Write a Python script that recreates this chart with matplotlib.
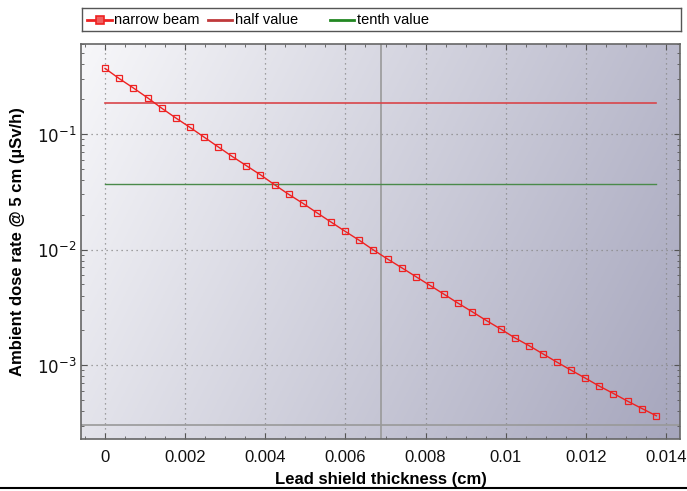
import numpy as np
import matplotlib
matplotlib.use("Agg")
import matplotlib.pyplot as plt
from matplotlib.lines import Line2D
from matplotlib.ticker import FixedLocator, MultipleLocator, LogLocator, NullFormatter

plt.rcParams['font.family'] = ['Liberation Sans', 'DejaVu Sans']

thickness = [0, 0.00035, 0.00071, 0.00106, 0.00141, 0.00176, 0.00212, 0.00247, 0.00282, 0.00317,
             0.00353, 0.00388, 0.00423, 0.00458, 0.00494, 0.00529, 0.00564, 0.00599, 0.00635, 0.00670,
             0.00705, 0.00740, 0.00776, 0.00811, 0.00846, 0.00881, 0.00917, 0.00952, 0.00987, 0.01022,
             0.01058, 0.01093, 0.01128, 0.01163, 0.01199, 0.01234, 0.01269, 0.01304, 0.01340, 0.01376]
dose = [0.369, 0.302, 0.2495, 0.2057, 0.1675, 0.138, 0.114, 0.0940, 0.0775, 0.0640,
        0.0531, 0.0443, 0.0364, 0.0301, 0.0251, 0.0208, 0.0173, 0.0144, 0.0120, 0.00992,
        0.00829, 0.00698, 0.00583, 0.00490, 0.00411, 0.00344, 0.00289, 0.00243, 0.00206, 0.00173,
        0.001477, 0.001253, 0.001062, 0.000906, 0.000772, 0.000658, 0.000569, 0.000489, 0.000422, 0.000365]
half_value = 0.1845
tenth_value = 0.0369
cursor_x = 0.006885
cursor_y = 0.000305

x_ticks = [0, 0.002, 0.004, 0.006, 0.008, 0.01, 0.012, 0.014]
x_tick_labels = ["0", "0.002", "0.004", "0.006", "0.008", "0.01", "0.012", "0.014"]
y_ticks = [1e-3, 1e-2, 1e-1]
y_tick_labels = [r"$10^{-3}$", r"$10^{-2}$", r"$10^{-1}$"]

fig = plt.figure(figsize=(6.87, 4.91), dpi=100)
ax = fig.add_axes([81/687, 1-439/491, (680-81)/687, (439-44)/491])

xlim = (-0.0006, 0.01435)
ylim = (2.3e-4, 0.60)
ax.set_xlim(*xlim)
ax.set_yscale('log')
ax.set_ylim(*ylim)

# gradient background
nx, ny = 256, 256
gx = np.linspace(0, 1, nx)[None, :]
gy = np.linspace(0, 1, ny)[:, None]
t = 0.75 * gx + 0.25 * gy
c0 = np.array([0.97, 0.97, 0.98])
c1 = np.array([0.65, 0.65, 0.74])
img = c0[None, None, :] * (1 - t[..., None]) + c1[None, None, :] * t[..., None]
ax.imshow(img, extent=[0, 1, 0, 1], transform=ax.transAxes, aspect='auto', zorder=0, origin='upper')

ax.grid(True, which='major', linestyle=(0, (1, 3)), color='#888888', linewidth=0.9, zorder=1)

ax.axvline(cursor_x, color='#999999', linewidth=1.2, zorder=2)
ax.axhline(cursor_y, color='#999999', linewidth=1.2, zorder=2)

ax.plot([thickness[0], thickness[-1]], [half_value, half_value], color='#d9454a', linewidth=1.2, zorder=3)
ax.plot([thickness[0], thickness[-1]], [tenth_value, tenth_value], color='#4a8a4a', linewidth=1.0, zorder=3)
ax.plot(thickness, dose, color='#ee2222', linewidth=1.0, marker='s', markersize=5,
        markerfacecolor='none', markeredgecolor='#ee2222', markeredgewidth=0.9, zorder=4)

ax.xaxis.set_major_locator(FixedLocator(x_ticks))
ax.set_xticklabels(x_tick_labels)
ax.xaxis.set_minor_locator(MultipleLocator(0.0005))
ax.yaxis.set_major_locator(FixedLocator(y_ticks))
ax.set_yticklabels(y_tick_labels)
ax.yaxis.set_minor_locator(LogLocator(base=10, subs=np.arange(2, 10)))
ax.yaxis.set_minor_formatter(NullFormatter())

ax.tick_params(which='both', direction='in', top=True, right=True, colors='#555555',
               labelcolor='#111111', labelsize=12)
ax.tick_params(which='major', length=4)
ax.tick_params(which='minor', length=2.5)
ax.tick_params(axis='x', pad=8)
for s in ax.spines.values():
    s.set_color('#666666')
    s.set_linewidth(1.2)

ax.set_xlabel("Lead shield thickness (cm)", fontsize=12, fontweight='bold', labelpad=5)
ax.set_ylabel("Ambient dose rate @ 5 cm (µSv/h)", fontsize=12, fontweight='bold', labelpad=8)

# legend box
lax = fig.add_axes([82/687, 1-31/491, (681-82)/687, (31-8)/491])
lax.set_xlim(0, 599)
lax.set_ylim(0, 23)
lax.set_xticks([])
lax.set_yticks([])
for s in lax.spines.values():
    s.set_color('#555555')
    s.set_linewidth(1.0)
lax.plot([5, 30], [11.5, 11.5], color='#ee2222', linewidth=2.0)
lax.plot([17.5], [11.5], marker='s', markersize=6, markerfacecolor='#f06060', markeredgecolor='#ee2222',
         markeredgewidth=1.2)
lax.text(32, 11.5, "narrow beam", fontsize=10.5, va='center', ha='left')
lax.plot([126, 150], [11.5, 11.5], color='#c0393b', linewidth=2.0)
lax.text(153, 11.5, "half value", fontsize=10.5, va='center', ha='left')
lax.plot([248, 272], [11.5, 11.5], color='#228822', linewidth=2.0)
lax.text(275, 11.5, "tenth value", fontsize=10.5, va='center', ha='left')

# bottom rule
fig.add_artist(Line2D([0, 1], [1-488/491, 1-488/491], color='black', linewidth=1.5,
                      transform=fig.transFigure))

fig.savefig("out.png", dpi=100)
